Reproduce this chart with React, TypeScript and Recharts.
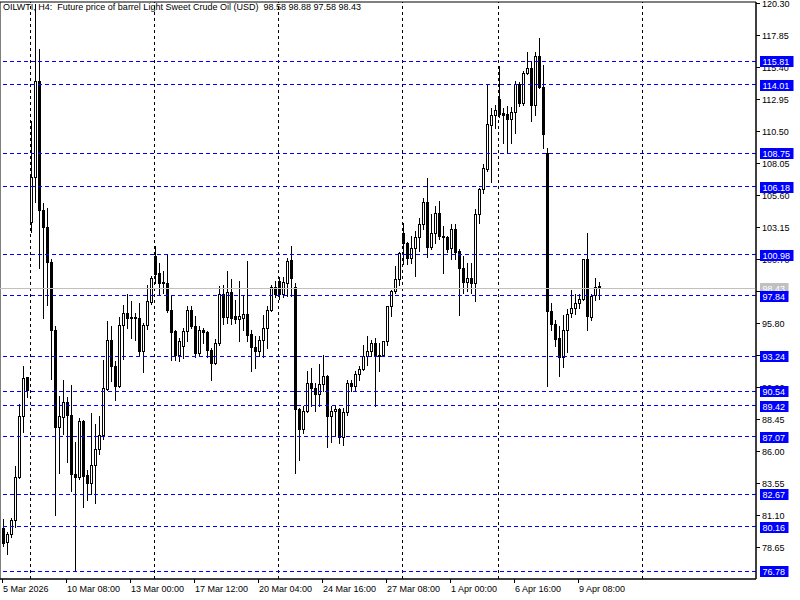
import React from 'react';
import { ComposedChart, Bar, XAxis, YAxis, ReferenceLine, ReferenceArea } from 'recharts';

const opens = [80.1, 78.98, 79.59, 80.69, 83.94, 88.61, 91.6, 103.47, 106.92, 114.28,
  104.41, 103.14, 100.42, 95.21, 87.8, 88.57, 89.72, 88.72, 84.2, 83.94,
  88.28, 84.1, 83.51, 84.91, 86.11, 87.19, 90.73, 94.49, 92.45, 90.97,
  95.6, 96.54, 96.16, 96.2, 96.16, 93.6, 95.64, 97.36, 100.88, 99.56,
  98.84, 98.84, 96.8, 95.13, 93.34, 94.0, 95.13, 96.8, 95.51, 93.47,
  95.26, 95.05, 93.73, 92.71, 94.24, 98.0, 96.24, 98.15, 96.28, 96.1,
  96.16, 96.49, 94.93, 93.94, 93.6, 94.49, 95.39, 96.8, 98.54, 98.97,
  97.95, 98.84, 100.58, 98.54, 89.18, 87.65, 89.0, 91.17, 90.79, 90.35,
  91.12, 91.73, 88.67, 89.0, 89.2, 87.03, 88.95, 91.17, 90.91, 91.89,
  92.27, 93.21, 93.65, 94.24, 93.21, 93.34, 94.36, 97.05, 98.2, 99.1,
  102.62, 101.91, 100.76, 101.53, 102.37, 103.31, 105.05, 101.6, 102.68, 104.16,
  102.42, 102.37, 101.53, 102.93, 101.27, 99.99, 98.89, 99.23, 98.84, 104.13,
  106.05, 107.58, 110.93, 111.67, 112.95, 111.83, 111.75, 111.42, 111.95, 114.05,
  112.59, 114.87, 115.25, 112.44, 116.17, 113.87, 108.76, 96.66, 95.7, 94.62,
  93.17, 95.21, 96.5, 96.93, 97.31, 97.61, 100.63, 96.24, 97.9, 98.58];

const highs = [80.8, 79.79, 80.82, 84.83, 89.59, 92.5, 91.65, 111.21, 120.2, 116.73,
  104.98, 104.54, 100.63, 95.51, 90.2, 91.43, 90.1, 91.02, 86.65, 88.49,
  88.35, 84.53, 88.87, 88.05, 88.61, 92.96, 95.95, 95.51, 92.88, 96.2,
  97.18, 97.99, 97.43, 96.54, 97.31, 95.77, 98.71, 99.4, 101.65, 100.38,
  99.73, 100.99, 97.81, 95.2, 94.62, 95.39, 97.05, 97.05, 96.28, 95.51,
  95.39, 95.13, 93.86, 94.55, 98.58, 98.64, 99.73, 99.1, 97.56, 98.97,
  97.81, 100.5, 95.26, 94.75, 94.75, 96.41, 97.05, 98.71, 98.97, 99.3,
  99.3, 100.76, 101.65, 98.84, 89.26, 89.38, 92.06, 92.33, 91.17, 92.65,
  93.34, 91.8, 89.38, 89.38, 89.26, 89.26, 91.43, 91.43, 92.06, 92.45,
  94.11, 94.75, 94.49, 94.62, 94.24, 94.4, 97.1, 98.33, 100.12, 101.2,
  103.39, 101.95, 102.42, 102.8, 103.83, 105.36, 106.84, 104.08, 104.72, 105.1,
  103.18, 102.42, 103.31, 103.31, 101.4, 100.88, 100.38, 100.38, 104.46, 106.12,
  107.91, 113.97, 112.19, 112.44, 115.45, 112.26, 112.39, 112.34, 114.3, 114.18,
  115.07, 116.53, 115.84, 116.48, 117.55, 115.51, 109.14, 97.26, 96.03, 95.57,
  96.41, 96.85, 98.33, 98.02, 98.02, 100.68, 102.62, 97.95, 99.23, 98.88];

const lows = [78.7, 78.08, 79.41, 80.13, 83.89, 87.39, 90.1, 102.7, 105.0, 99.99,
  96.18, 97.18, 91.5, 81.07, 84.32, 87.29, 85.16, 82.94, 76.75, 83.84,
  81.71, 82.22, 82.68, 81.97, 85.75, 86.88, 90.66, 91.3, 89.84, 90.9,
  93.0, 95.39, 94.62, 94.43, 93.27, 91.99, 95.3, 97.2, 98.84, 98.02,
  98.07, 96.64, 92.96, 92.96, 92.83, 93.09, 94.36, 95.39, 93.14, 93.21,
  94.24, 93.17, 91.43, 92.65, 94.11, 95.72, 95.77, 95.72, 95.77, 94.36,
  95.21, 94.36, 92.06, 92.33, 93.21, 93.17, 93.86, 96.67, 97.77, 97.6,
  97.77, 97.81, 97.81, 84.27, 85.29, 87.34, 88.95, 89.38, 89.0, 89.38,
  90.53, 86.27, 86.62, 87.08, 86.57, 86.44, 88.74, 90.53, 90.53, 91.43,
  92.14, 92.58, 93.21, 89.38, 92.06, 93.27, 94.11, 96.28, 98.07, 98.71,
  100.25, 100.25, 100.38, 99.35, 101.27, 102.93, 100.84, 101.4, 101.91, 102.16,
  99.61, 101.19, 100.63, 100.63, 96.41, 98.07, 98.2, 98.07, 97.43, 103.44,
  105.74, 107.4, 106.56, 110.73, 111.57, 109.58, 108.86, 109.58, 110.29, 112.39,
  112.44, 114.82, 111.24, 111.67, 113.72, 109.19, 90.97, 95.26, 93.98, 91.73,
  92.4, 93.52, 96.24, 96.49, 96.93, 97.56, 95.21, 96.03, 97.51, 97.58];

const closes = [78.9, 79.59, 80.69, 83.97, 88.67, 91.56, 90.6, 106.92, 114.28, 104.41,
  103.14, 100.42, 95.21, 87.8, 88.61, 89.72, 88.72, 84.2, 84.0, 88.28,
  84.09, 83.51, 84.91, 86.11, 87.19, 90.79, 94.49, 92.45, 90.97, 95.64,
  96.54, 96.16, 96.2, 96.16, 93.6, 95.64, 97.43, 99.23, 99.48, 98.84,
  98.9, 96.8, 95.05, 93.34, 94.36, 95.13, 96.8, 95.51, 93.47, 95.26,
  95.05, 93.73, 92.71, 94.24, 98.0, 96.24, 98.15, 96.16, 96.1, 96.3,
  96.49, 94.88, 93.94, 93.6, 94.49, 95.39, 96.8, 98.54, 97.95, 97.95,
  98.93, 100.5, 99.23, 89.18, 87.65, 89.0, 91.17, 90.79, 90.35, 91.12,
  91.73, 88.67, 89.0, 89.2, 87.03, 88.95, 91.17, 90.91, 91.89, 92.27,
  93.21, 93.65, 94.24, 93.21, 93.34, 94.36, 97.05, 98.2, 99.1, 101.14,
  101.91, 100.76, 101.53, 102.37, 103.31, 105.02, 101.6, 102.68, 104.16, 102.42,
  102.37, 101.45, 102.93, 101.19, 99.99, 98.89, 99.23, 98.84, 104.13, 106.05,
  107.66, 110.98, 111.67, 112.06, 111.75, 111.67, 111.42, 111.95, 114.05, 112.59,
  114.87, 115.25, 112.44, 116.17, 113.87, 110.22, 96.66, 95.7, 94.55, 93.17,
  95.21, 96.47, 96.93, 97.31, 97.61, 100.63, 96.28, 97.81, 98.54, 98.43];

const TOTAL_SLOTS = 189;
const xTickIdx = [0, 16, 32, 48, 64, 80, 96, 112, 128, 144];
const xTickLabels = ['5 Mar 2026', '10 Mar 08:00', '13 Mar 00:00', '17 Mar 12:00', '20 Mar 04:00',
  '24 Mar 16:00', '27 Mar 08:00', '1 Apr 00:00', '6 Apr 16:00', '9 Apr 08:00'];
const yTicks = [120.3, 117.85, 115.4, 112.95, 110.5, 108.05, 105.6, 103.15, 100.7, 98.25,
  95.8, 93.35, 90.9, 88.45, 86.0, 83.55, 81.1, 78.65];
const levels = [115.81, 114.01, 108.75, 106.18, 100.98, 97.84, 93.24, 90.54, 89.42, 87.07, 82.67, 80.16, 76.78];
const currentPrice = 98.43;
const gridIdx = [7, 38, 69, 100, 124, 160];
const yDomain: [number, number] = [76.17, 120.34];
const title = 'OILWTI, H4:  Future price of barrel Light Sweet Crude Oil (USD)  98.58 98.88 97.58 98.43';

const FONT = '"Liberation Sans", Arial, sans-serif';

const data = Array.from({ length: TOTAL_SLOTS }, (_, i) => {
  if (i < opens.length) {
    return { i, range: [lows[i], highs[i]], o: opens[i], h: highs[i], l: lows[i], c: closes[i] };
  }
  return { i, range: null, o: null, h: null, l: null, c: null };
});

// axis tick order: plain ticks first, then the price tag, then level tags (drawn on top)
const axisTicks = [...yTicks, currentPrice, ...levels];

const Candle = (props: any) => {
  const { x, y, width, height, payload } = props;
  if (!payload || payload.o == null || x == null || y == null) return null;
  const { o, h, l, c } = payload;
  const top = Math.min(y, y + height);
  const hh = Math.abs(height);
  const r = h > l ? hh / (h - l) : 0;
  const py = (v: number) => top + (h - v) * r;
  const cx = Math.round(x + width / 2) + 0.5;
  const yh = Math.round(top);
  const yl = Math.round(top + hh);
  const yo = Math.round(py(o));
  const yc = Math.round(py(c));
  const bt = Math.min(yo, yc);
  const bb = Math.max(yo, yc);
  const bull = c > o;
  let body;
  if (bb - bt < 1) {
    body = <rect x={cx - 1.5} y={bt} width={3} height={1} fill="#000" />;
  } else if (bull) {
    body = <rect x={cx - 1} y={bt + 0.5} width={2} height={bb - bt} fill="#fff" stroke="#000" strokeWidth={1} />;
  } else {
    body = <rect x={cx - 1.5} y={bt} width={3} height={bb - bt + 1} fill="#000" />;
  }
  return (
    <g>
      <line x1={cx} x2={cx} y1={yh} y2={yl + 1} stroke="#000" strokeWidth={1} />
      {body}
    </g>
  );
};

const textW = (s: string) => s.split('').reduce((a, ch) => a + (ch === '.' ? 2.5 : 5), 0);

const hLineShape = (color: string, dash?: string) => (p: any) => {
  const yy = Math.floor(p.y1 ?? 0) + 0.5;
  return <line x1={p.x1} x2={p.x2} y1={yy} y2={yy} stroke={color} strokeWidth={1} strokeDasharray={dash} />;
};

const vLineShape = (p: any) => {
  const xx = Math.floor(p.x1 ?? 0) + 0.5;
  return <line x1={xx} x2={xx} y1={p.y1} y2={p.y2} stroke="#000" strokeWidth={1} strokeDasharray="3 3" />;
};

const YTick = (props: any) => {
  const { x, y, payload } = props;
  const v = Number(payload.value);
  const txt = v.toFixed(2);
  const cy = Math.round(y);
  const isLevel = levels.includes(v);
  const isPrice = v === currentPrice;
  if (isLevel || isPrice) {
    const w = textW(txt) + 6;
    return (
      <g>
        <rect x={x + 4} y={cy - 5} width={w} height={11} fill={isPrice ? '#c0c0c0' : '#0000ff'} />
        <text x={x + 6.5} y={cy + 4} fill="#fff" fontSize={9} fontFamily={FONT}>{txt}</text>
      </g>
    );
  }
  const yy = cy + 0.5;
  return (
    <g>
      <line x1={x} x2={x + 4} y1={yy} y2={yy} stroke="#000" strokeWidth={1} />
      <text x={x + 6} y={cy + 3.5} fontSize={9} fontFamily={FONT} fill="#000">{txt}</text>
    </g>
  );
};

const XTick = (props: any) => {
  const { x, y, payload } = props;
  const idx = xTickIdx.indexOf(Number(payload.value));
  const label = idx >= 0 ? xTickLabels[idx] : '';
  const xx = Math.round(x) + 0.5;
  return (
    <g>
      <line x1={xx} x2={xx} y1={y} y2={y + 4} stroke="#000" strokeWidth={1} />
      <text x={x + 1} y={y + 13} fontSize={9} fontFamily={FONT} fill="#000">{label}</text>
    </g>
  );
};

export default function App() {
  return (
    <div style={{ position: 'absolute', left: 0, top: 0, width: 800, height: 600, background: '#fff' }}>
      <ComposedChart width={800} height={600} data={data} margin={{ top: 2, right: 1, bottom: 0, left: 0 }} barCategoryGap={0}>
        <XAxis dataKey="i" type="category" ticks={xTickIdx} interval={0} tickSize={0} tickMargin={0}
          height={21} tick={<XTick />} axisLine={{ stroke: '#000' }} tickLine={false} />
        <YAxis orientation="right" width={43} domain={yDomain} allowDataOverflow ticks={axisTicks} interval={0}
          tickSize={0} tickMargin={0} tick={<YTick />} axisLine={{ stroke: '#000' }} tickLine={false} />
        <ReferenceArea y1={yDomain[0]} y2={yDomain[1]} fill="none" stroke="#000" strokeWidth={1} ifOverflow="visible" />
        {gridIdx.map((g) => (
          <ReferenceLine key={'v' + g} x={g} shape={vLineShape} />
        ))}
        <ReferenceLine y={currentPrice} shape={hLineShape('#c0c0c0')} />
        {levels.map((v) => (
          <ReferenceLine key={'h' + v} y={v} shape={hLineShape('#0000ff', '4 3')} />
        ))}
        <Bar dataKey="range" barSize={3} shape={<Candle />} isAnimationActive={false} />
      </ComposedChart>
      <div style={{ position: 'absolute', left: 3, top: 2, fontFamily: FONT, fontSize: 9, whiteSpace: 'pre', color: '#000', lineHeight: '11px' }}>
        {title}
      </div>
    </div>
  );
}
